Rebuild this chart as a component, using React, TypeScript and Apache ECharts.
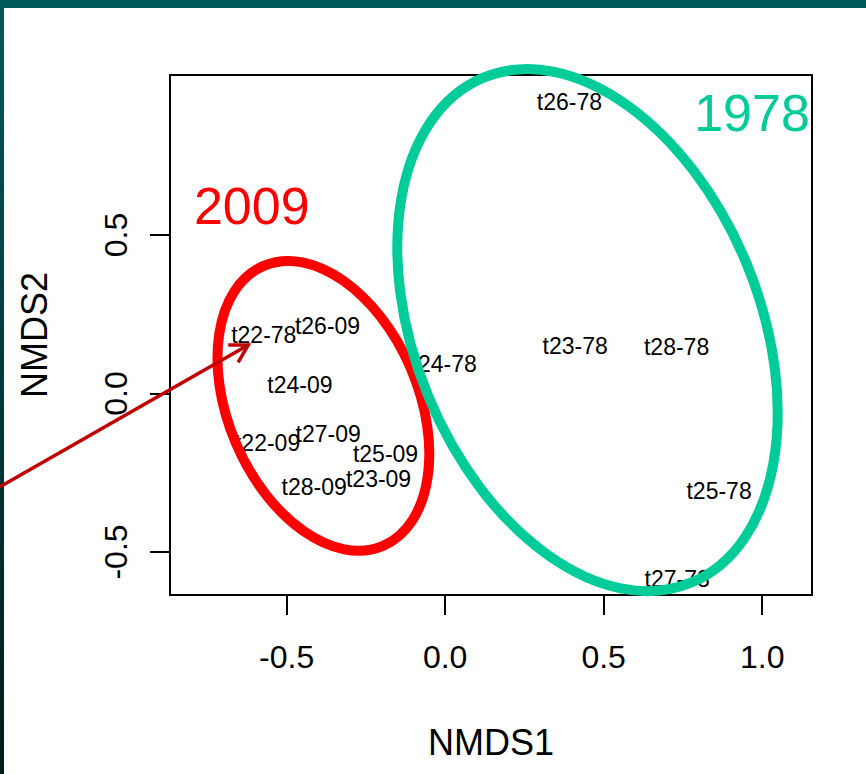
import React, { useEffect, useRef } from "react";
import * as echarts from "echarts";

// Sample scores (label centres)
const sampleLabels = ["t26-78", "t22-78", "t26-09", "t24-78", "t23-78", "t28-78", "t24-09", "t22-09", "t27-09", "t25-09", "t28-09", "t23-09", "t25-78", "t27-78"];
const nmds1 = [0.392, -0.572, -0.371, -0.003, 0.41, 0.73, -0.458, -0.56, -0.369, -0.188, -0.413, -0.21, 0.864, 0.732];
const nmds2 = [0.919, 0.184, 0.214, 0.094, 0.151, 0.146, 0.026, -0.157, -0.128, -0.191, -0.294, -0.27, -0.306, -0.586];

// Group annotations
const groupNames = ["2009", "1978"];
const groupLabelX = [-0.61, 0.968];
const groupLabelY = [0.592, 0.884];
const groupColors = ["#FF0000", "#00CC99"];

// Hand-drawn ellipses around the groups (data units)
const ellipseCenterX = [-0.384, 0.449];
const ellipseCenterY = [-0.039, 0.2];
const ellipseMajor = [0.48, 0.8615];
const ellipseMinor = [0.3, 0.544];
const ellipseTiltDeg = [23.1, 22.3];

// Arrow pointing at t22-78
const arrowFrom = [-1.404, -0.294];
const arrowTo = [-0.621, 0.153];

// Axes
const xTicks = [-0.5, 0, 0.5, 1.0];
const yTicks = [-0.5, 0, 0.5];
const xRange = [-0.8678, 1.1571];
const yRange = [-0.6356, 1.0047];

const FONT = "'Liberation Sans', Arial, Helvetica, sans-serif";

export default function App() {
  const ref = useRef<HTMLDivElement>(null);

  useEffect(() => {
    if (!ref.current) return;
    const chart = echarts.init(ref.current, null, { renderer: "svg" });

    const labelBase = {
      show: true,
      position: "inside",
      formatter: (p: any) => p.name,
      fontFamily: FONT,
      opacity: 1,
      textBorderWidth: 0,
      textBorderColor: "transparent",
      textShadowBlur: 0,
    };

    const option: any = {
      animation: false,
      backgroundColor: "#FFFFFF",
      grid: {
        left: 170,
        right: 54,
        top: 75,
        bottom: 179,
        show: true,
        borderColor: "#000000",
        borderWidth: 2,
        backgroundColor: "transparent",
        containLabel: false,
        outerBoundsMode: "none",
      },
      xAxis: {
        type: "value",
        min: xRange[0],
        max: xRange[1],
        name: "NMDS1",
        nameLocation: "middle",
        nameGap: 129,
        nameTextStyle: { fontFamily: FONT, fontSize: 36, color: "#000" },
        axisLine: { show: false, onZero: false },
        splitLine: { show: false },
        axisTick: { show: true, inside: false, length: 20, customValues: xTicks, lineStyle: { color: "#000", width: 2 } },
        axisLabel: {
          customValues: xTicks,
          formatter: (v: number) => v.toFixed(1),
          fontFamily: FONT,
          fontSize: 32,
          color: "#000",
          margin: 46,
        },
      },
      yAxis: {
        type: "value",
        min: yRange[0],
        max: yRange[1],
        name: "NMDS2",
        nameLocation: "middle",
        nameGap: 118,
        nameTextStyle: { fontFamily: FONT, fontSize: 36, color: "#000" },
        axisLine: { show: false, onZero: false },
        splitLine: { show: false },
        axisTick: { show: true, inside: false, length: 20, customValues: yTicks, lineStyle: { color: "#000", width: 2 } },
        axisLabel: {
          customValues: yTicks,
          formatter: (v: number) => v.toFixed(1),
          rotate: 90,
          fontFamily: FONT,
          fontSize: 32,
          color: "#000",
          margin: 38,
        },
      },
      series: [
        {
          type: "scatter",
          symbolSize: 1,
          itemStyle: { color: "rgba(0,0,0,0)", opacity: 1 },
          z: 3,
          label: { ...labelBase, fontSize: 23, color: "#000000" },
          emphasis: { disabled: true },
          data: sampleLabels.map((n, i) => ({ name: n, value: [nmds1[i], nmds2[i]] })),
        },
        {
          type: "scatter",
          symbolSize: 1,
          itemStyle: { color: "rgba(0,0,0,0)", opacity: 1 },
          z: 3,
          label: { ...labelBase, fontSize: 52 },
          emphasis: { disabled: true },
          data: groupNames.map((n, i) => ({
            name: n,
            value: [groupLabelX[i], groupLabelY[i]],
            label: { color: groupColors[i] },
          })),
        },
      ],
    };
    chart.setOption(option);

    const px = (p: number[]) => chart.convertToPixel({ gridIndex: 0 }, p) as number[];

    const graphics: any[] = [];
    // page borders
    graphics.push({ type: "rect", shape: { x: 0, y: 0, width: 866, height: 8 }, style: { fill: "#005A5A" }, z: 50 });
    graphics.push({
      type: "rect",
      shape: { x: 0, y: 0, width: 4, height: 774 },
      style: {
        fill: new echarts.graphic.LinearGradient(0, 0, 0, 1, [
          { offset: 0, color: "#005A5A" },
          { offset: 1, color: "#001A1A" },
        ]),
      },
      z: 50,
    });

    groupNames.forEach((_, i) => {
      const c = px([ellipseCenterX[i], ellipseCenterY[i]]);
      const cx2 = px([ellipseCenterX[i] + ellipseMinor[i], ellipseCenterY[i]]);
      const cy2 = px([ellipseCenterX[i], ellipseCenterY[i] + ellipseMajor[i]]);
      const rx = Math.abs(cx2[0] - c[0]);
      const ry = Math.abs(cy2[1] - c[1]);
      graphics.push({
        type: "ellipse",
        x: c[0],
        y: c[1],
        rotation: (ellipseTiltDeg[i] * Math.PI) / 180,
        shape: { cx: 0, cy: 0, rx, ry },
        style: { fill: "none", stroke: groupColors[i], lineWidth: 10 },
        z: 100,
      });
    });

    const a0 = px(arrowFrom);
    const a1 = px(arrowTo);
    const ang = Math.atan2(a1[1] - a0[1], a1[0] - a0[0]);
    const L = 20;
    const w1 = [a1[0] - L * Math.cos(ang - Math.PI / 6), a1[1] - L * Math.sin(ang - Math.PI / 6)];
    const w2 = [a1[0] - L * Math.cos(ang + Math.PI / 6), a1[1] - L * Math.sin(ang + Math.PI / 6)];
    graphics.push({
      type: "line",
      shape: { x1: a0[0], y1: a0[1], x2: a1[0], y2: a1[1] },
      style: { stroke: "#C00000", lineWidth: 3.5 },
      z: 110,
    });
    graphics.push({
      type: "polyline",
      shape: { points: [w1, a1, w2] },
      style: { stroke: "#C00000", lineWidth: 3.5, fill: "none" },
      z: 110,
    });

    chart.setOption({ graphic: graphics });

    return () => chart.dispose();
  }, []);

  return (
    <div
      ref={ref}
      style={{ position: "fixed", left: 0, top: 0, width: 866, height: 774, background: "#fff" }}
    />
  );
}
